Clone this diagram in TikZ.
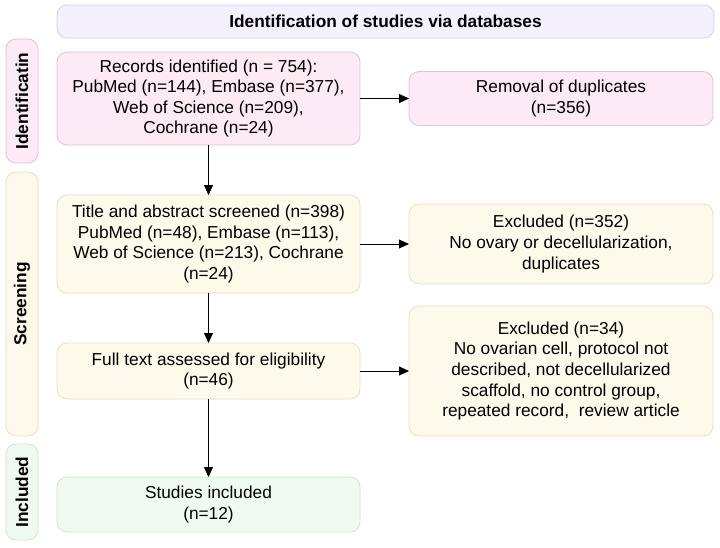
\documentclass[tikz,border=0pt]{standalone}
\usepackage{fontspec}
\setmainfont{Liberation Sans}
\usepackage{tikz}
\usetikzlibrary{arrows.meta,calc,positioning,shapes}
\definecolor{idfill}{HTML}{FCEAF4}
\definecolor{iddraw}{HTML}{E2C2D4}
\definecolor{scfill}{HTML}{FDF9EB}
\definecolor{scdraw}{HTML}{E9DFBE}
\definecolor{infill}{HTML}{F0FAF0}
\definecolor{indraw}{HTML}{CDE6CD}
\definecolor{hdfill}{HTML}{F4F0FC}
\definecolor{hddraw}{HTML}{D8CFE8}
\tikzstyle{box}=[
  draw,
  font={\fontsize{17.3}{20.6}\selectfont},
  inner sep=0pt,
  outer sep=0pt,
  rectangle,
  rounded corners=10pt,
  align=center,
  line width=0.8pt,
]
\tikzstyle{phase}=[
  box,
  font={\fontsize{17.3}{20.6}\selectfont\bfseries},
  rotate=90,
  minimum height=32pt,
]
\tikzstyle{idbox}=[box, fill=idfill, draw=iddraw]
\tikzstyle{scbox}=[box, fill=scfill, draw=scdraw]
\tikzstyle{inbox}=[box, fill=infill, draw=indraw]
\tikzstyle{arrow}=[
  draw=black,
  line width=0.9pt,
]
\tikzset{
  x=1pt, y=-1pt,
  >={Triangle[length=10pt,width=9pt]},
}
\begin{document}
\begin{tikzpicture}
    \useasboundingbox [fill=white] (0,0) rectangle (720,547);
    % header and phases
    \node (header) [box, fill=hdfill, draw=hddraw, minimum width=657pt, minimum height=33pt,
      font={\fontsize{17.3}{20.6}\selectfont\bfseries}] at (385.5,21.5) {Identification of studies via databases};
    \node (identif) [phase, fill=idfill, draw=iddraw, minimum width=124pt] at (22,101) {Identificatin};
    \node (screen) [phase, fill=scfill, draw=scdraw, minimum width=264pt] at (22,304) {Screening};
    \node (incl) [phase, fill=infill, draw=indraw, minimum width=96pt] at (22,492) {Included};
    % main column
    \node (records) [idbox, minimum width=303pt, minimum height=93pt] at (208.5,98.5)
      {Records identified (n = 754):\\PubMed (n=144), Embase (n=377),\\Web of Science (n=209),\\Cochrane (n=24)};
    \node (screened) [scbox, minimum width=303pt, minimum height=98pt] at (208.5,244)
      {Title and abstract screened (n=398)\\PubMed (n=48), Embase (n=113),\\Web of Science (n=213), Cochrane\\(n=24)};
    \node (fulltext) [scbox, minimum width=303pt, minimum height=56pt] at (208.5,371)
      {Full text assessed for eligibility\\(n=46)};
    \node (studies) [inbox, minimum width=303pt, minimum height=55pt] at (208.5,504.5)
      {Studies included\\(n=12)};
    % side column
    \node (dupl) [idbox, minimum width=304pt, minimum height=54pt] at (561,98.5)
      {Removal of duplicates\\(n=356)};
    \node (excl1) [scbox, minimum width=304pt, minimum height=80pt] at (561,244)
      {Excluded (n=352)\\No ovary or decellularization,\\duplicates};
    \node (excl2) [scbox, minimum width=304pt, minimum height=130pt] at (561,371)
      {Excluded (n=34)\\No ovarian cell, protocol not\\described, not decellularized\\scaffold, no control group,\\repeated record,\ \ review article};
    % arrows
    \draw [->, arrow] (records) -- (screened);
    \draw [->, arrow] (screened) -- (fulltext);
    \draw [->, arrow] (fulltext) -- (studies);
    \draw [->, arrow] (records) -- (dupl);
    \draw [->, arrow] (screened) -- (excl1);
    \draw [->, arrow] (fulltext) -- (excl2);
\end{tikzpicture}
\end{document}
